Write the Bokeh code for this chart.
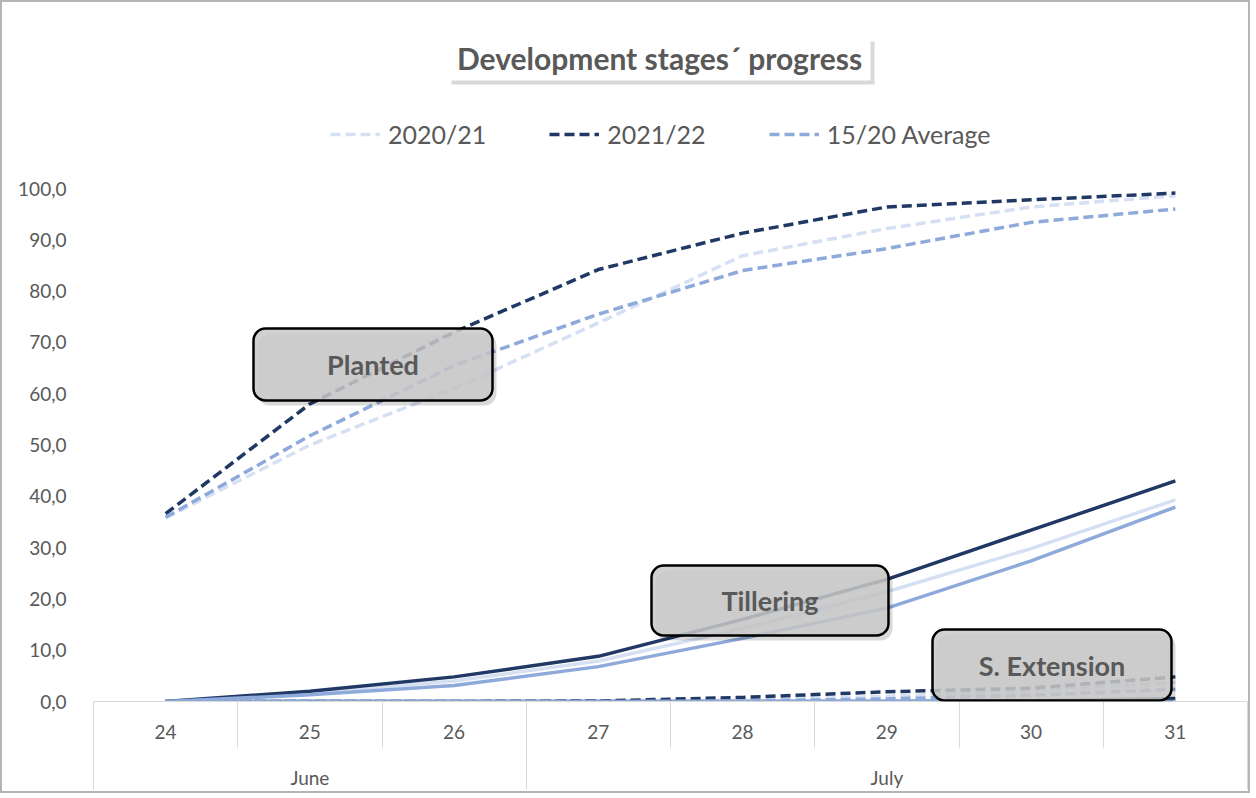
from bokeh.plotting import figure
from bokeh.models import (FixedTicker, LinearAxis, Range1d, Legend, LegendItem,
                          BoxAnnotation, Label)
from bokeh.embed import file_html
from bokeh.resources import INLINE

# ---------------- data ----------------
days = [24, 25, 26, 27, 28, 29, 30, 31]
day_labels = ["24", "25", "26", "27", "28", "29", "30", "31"]
month_labels = ["June", "July"]
month_centers = [25, 29]
series_names = ["2020/21", "2021/22", "15/20 Average"]

planted_2020_21 = [35.8, 50.0, 61.0, 73.8, 86.9, 92.2, 96.4, 98.6]
planted_2021_22 = [36.6, 58.0, 72.0, 84.2, 91.3, 96.4, 97.8, 99.1]
planted_avg = [35.9, 51.8, 65.5, 75.5, 84.0, 88.3, 93.4, 96.0]

tillering_2020_21 = [0.0, 1.7, 4.0, 7.9, 14.2, 21.4, 29.8, 39.3]
tillering_2021_22 = [0.0, 2.0, 4.8, 8.8, 16.0, 23.8, 33.4, 43.0]
tillering_avg = [0.0, 1.3, 3.1, 6.8, 12.3, 18.2, 27.4, 37.9]

s_ext_2020_21 = [0.0, 0.0, 0.0, 0.0, 0.3, 1.0, 2.2, 3.7]
s_ext_2021_22 = [0.0, 0.0, 0.0, 0.1, 0.8, 1.9, 2.6, 4.8]
s_ext_avg = [0.0, 0.0, 0.0, 0.0, 0.1, 0.5, 1.2, 2.4]

other_2020_21 = [0.0, 0.0, 0.0, 0.0, 0.0, 0.0, 0.0, 0.0]
other_2021_22 = [0.0, 0.0, 0.0, 0.0, 0.0, 0.0, 0.1, 0.6]
other_avg = [0.0, 0.0, 0.0, 0.0, 0.0, 0.0, 0.0, 0.0]

y_ticks = [0, 10, 20, 30, 40, 50, 60, 70, 80, 90, 100]

# ---------------- styling ----------------
C_LIGHT = "#d6e0f3"
C_DARK = "#203864"
C_AVG = "#8eaadb"
colors = [C_LIGHT, C_DARK, C_AVG]
TXT = "#595959"
GRID = "#d9d9d9"
FONT = "Lato"
LW = 3.5
DASH = "10 5"

PX_PER_Y = 5.13
ORIG = 2  # page offset of the figure content
y_top = (701 - ORIG) / PX_PER_Y

p = figure(width=1250, height=793, output_backend="svg", toolbar_location=None,
           x_range=Range1d(23.5, 31.5), y_range=Range1d(0, y_top),
           min_border_left=91, min_border_right=5, min_border_top=0, min_border_bottom=94,
           x_axis_type=None, y_axis_type=None)
p.outline_line_color = None
p.background_fill_color = "white"
p.border_fill_color = "white"
p.styles = {"border": "2px solid #b4b4b4"}

# y axis
yaxis = LinearAxis(ticker=FixedTicker(ticks=y_ticks))
yaxis.major_label_overrides = {t: f"{t},0" for t in y_ticks}
yaxis.axis_line_color = None
yaxis.major_tick_line_color = None
yaxis.minor_tick_line_color = None
yaxis.major_label_text_font = FONT
yaxis.major_label_text_font_size = "19px"
yaxis.major_label_text_color = TXT
yaxis.major_label_standoff = 21
p.add_layout(yaxis, "left")

# x axis: days
xaxis = LinearAxis(ticker=FixedTicker(ticks=days,
                                      minor_ticks=[d - 0.5 for d in days] + [days[-1] + 0.5]))
xaxis.major_label_overrides = {d: l for d, l in zip(days, day_labels)}
xaxis.axis_line_color = GRID
xaxis.axis_line_width = 1
xaxis.major_tick_line_color = None
xaxis.minor_tick_line_color = GRID
xaxis.minor_tick_in = 0
xaxis.minor_tick_out = 46
xaxis.major_label_text_font = FONT
xaxis.major_label_text_font_size = "19px"
xaxis.major_label_text_color = TXT
xaxis.major_label_standoff = -23
p.add_layout(xaxis, "below")

# x axis: months
maxis = LinearAxis(ticker=FixedTicker(ticks=month_centers, minor_ticks=[23.5, 26.5, 31.5]))
maxis.major_label_overrides = {c: l for c, l in zip(month_centers, month_labels)}
maxis.axis_line_color = None
maxis.major_tick_line_color = None
maxis.minor_tick_line_color = GRID
maxis.minor_tick_in = 0
maxis.minor_tick_out = 48
maxis.major_label_text_font = FONT
maxis.major_label_text_font_size = "19px"
maxis.major_label_text_color = TXT
maxis.major_label_standoff = -24
p.add_layout(maxis, "below")

p.ygrid.ticker = FixedTicker(ticks=y_ticks)
p.ygrid.grid_line_color = GRID
p.xgrid.grid_line_color = None

# ---------------- lines ----------------
planted = [planted_2020_21, planted_2021_22, planted_avg]
tillering = [tillering_2020_21, tillering_2021_22, tillering_avg]
s_ext = [s_ext_2020_21, s_ext_2021_22, s_ext_avg]
other = [other_2020_21, other_2021_22, other_avg]

for vals, c in zip(other, colors):
    p.line(days, vals, line_color=c, line_width=LW)
for vals, c in zip(s_ext, colors):
    p.line(days, vals, line_color=c, line_width=LW, line_dash=DASH)
for vals, c in zip(tillering, colors):
    p.line(days, vals, line_color=c, line_width=LW)
legend_renderers = []
for vals, c in zip(planted, colors):
    r = p.line(days, vals, line_color=c, line_width=LW, line_dash=DASH)
    legend_renderers.append(r)

legend = Legend(items=[LegendItem(label=n, renderers=[r]) for n, r in zip(series_names, legend_renderers)],
                orientation="horizontal", location=(237, 552))
legend.border_line_color = None
legend.background_fill_alpha = 0
legend.padding = 0
legend.margin = 0
legend.glyph_width = 50
legend.glyph_height = 24
legend.label_standoff = 8
legend.spacing = 63
legend.label_text_font = FONT
legend.label_text_font_size = "25px"
legend.label_text_color = TXT
p.add_layout(legend, "center")

# ---------------- title box ----------------
def px_x(px):
    return 23.5 + (px - 93) / 144.25

def px_y(py):
    return (701 - py) / PX_PER_Y

p.add_layout(BoxAnnotation(left=px_x(451), right=px_x(874), top=px_y(41), bottom=px_y(84),
                           fill_color="#000000", fill_alpha=0.15, line_alpha=0))
p.add_layout(BoxAnnotation(left=px_x(448), right=px_x(870), top=px_y(37), bottom=px_y(80),
                           fill_color="white", fill_alpha=1, line_alpha=0))
p.add_layout(Label(x=px_x(659), y=px_y(57), text="Development stages´ progress",
                   text_align="center", text_baseline="middle", text_font=FONT,
                   text_font_style="bold", text_font_size="30px", text_color=TXT))

# ---------------- stage boxes ----------------
def stage_box(l, r, t, b, text):
    p.add_layout(BoxAnnotation(left=px_x(l + 4), right=px_x(r + 4), top=px_y(t + 5), bottom=px_y(b + 5),
                               fill_color="#000000", fill_alpha=0.15, line_alpha=0,
                               border_radius=12))
    p.add_layout(BoxAnnotation(left=px_x(l), right=px_x(r), top=px_y(t), bottom=px_y(b),
                               fill_color="#c9c9c9", fill_alpha=0.85, line_color="black",
                               line_alpha=1, line_width=2.5, border_radius=12))
    p.add_layout(Label(x=px_x((l + r) / 2), y=px_y((t + b) / 2), text=text,
                       text_align="center", text_baseline="middle", text_font=FONT,
                       text_font_style="bold", text_font_size="27px", text_color=TXT))

stage_box(253, 492, 328, 400, "Planted")
stage_box(651, 888, 565, 635, "Tillering")
stage_box(932, 1171, 629, 700, "S. Extension")

open("out.html", "w").write(file_html(p, INLINE))
